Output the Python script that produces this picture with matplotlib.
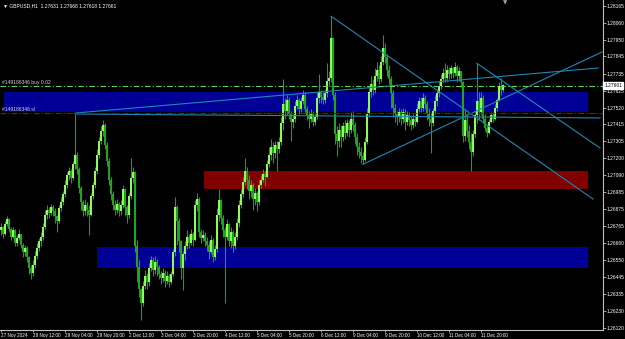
import numpy as np
import matplotlib.pyplot as plt
from matplotlib.patches import Rectangle

# GBPUSD H1 candles, values in 1e-4 above 1.2000 (bar 0 = 27 Nov 20:00)
base = 1.2
first_open_p = 674
close_p = [676, 672, 678, 681, 675, 670, 674, 666, 669, 672,
           665, 660, 663, 657, 650, 647, 652, 658, 663, 667,
           670, 676, 684, 687, 685, 689, 686, 683, 680, 688,
           692, 697, 703, 709, 712, 707, 716, 722, 713, 701,
           692, 686, 690, 687, 684, 696, 703, 712, 722, 731,
           737, 741, 728, 718, 706, 697, 690, 687, 691, 686,
           690, 700, 689, 684, 696, 707, 711, 664, 651, 637,
           628, 639, 645, 641, 650, 655, 649, 654, 651, 646,
           644, 647, 642, 645, 641, 646, 660, 689, 680, 667,
           650, 659, 664, 670, 666, 672, 668, 690, 694, 673,
           669, 671, 667, 665, 660, 668, 657, 662, 684, 693,
           682, 674, 670, 678, 667, 673, 664, 670, 679, 690,
           697, 705, 712, 706, 699, 703, 694, 698, 692, 703,
           706, 710, 708, 716, 722, 727, 723, 728, 726, 730,
           742, 754, 750, 757, 748, 743, 745, 753, 757, 751,
           756, 760, 751, 747, 745, 748, 743, 746, 758, 762,
           759, 757, 761, 769, 771, 796, 760, 735, 731, 738,
           733, 740, 736, 742, 738, 745, 741, 733, 727, 724,
           721, 719, 730, 748, 762, 767, 763, 772, 776, 770,
           781, 790, 784, 776, 770, 761, 752, 748, 746, 749,
           745, 749, 743, 747, 744, 741, 745, 743, 751, 756,
           752, 758, 754, 748, 745, 742, 750, 756, 761, 766,
           770, 774, 771, 776, 773, 777, 774, 778, 772, 775,
           768, 734, 744, 737, 730, 724, 735, 747, 756, 749,
           758, 745, 739, 736, 743, 747, 745, 752, 757, 766, 763.1, 766.1]
high_p = [679, 677, 680, 683, 682, 676, 676, 675, 671, 675,
          672, 666, 665, 664, 658, 652, 655, 661, 666, 669,
          673, 679, 687, 690, 689, 691, 690, 688, 684, 690,
          695, 699, 706, 711, 714, 713, 718, 748, 724, 714,
          702, 693, 694, 692, 690, 698, 705, 714, 726, 733,
          740, 744, 742, 730, 720, 708, 699, 693, 694, 692,
          693, 703, 701, 690, 698, 720, 714, 712, 668, 655,
          637, 642, 649, 647, 653, 658, 657, 658, 656, 652,
          648, 650, 649, 648, 646, 648, 662, 695, 690, 682,
          668, 661, 667, 674, 672, 675, 673, 693, 698, 695,
          675, 674, 673, 670, 667, 671, 669, 665, 688, 700,
          694, 684, 676, 681, 679, 676, 674, 673, 682, 693,
          700, 708, 720, 714, 709, 706, 704, 701, 699, 706,
          709, 713, 712, 719, 727, 732, 730, 731, 731, 733,
          746, 770, 758, 760, 759, 750, 748, 756, 760, 758,
          759, 763, 762, 753, 750, 751, 750, 748, 762, 773,
          763, 762, 764, 780, 775, 810, 797, 762, 740, 742,
          741, 743, 744, 745, 744, 749, 750, 743, 736, 730,
          727, 724, 733, 752, 766, 772, 770, 777, 781, 779,
          785, 798, 793, 786, 779, 772, 763, 754, 750, 752,
          751, 752, 751, 750, 749, 747, 748, 747, 755, 759,
          759, 761, 760, 756, 752, 749, 752, 760, 763, 769,
          773, 777, 780, 779, 778, 779, 778, 781, 779, 778,
          772, 769, 751, 748, 741, 736, 738, 750, 780, 762,
          762, 760, 748, 741, 745, 749, 749, 754, 758, 768, 771, 766.8]
low_p = [671, 669, 671, 677, 673, 668, 669, 664, 664, 668,
         663, 657, 658, 654, 646, 643, 645, 650, 656, 661,
         664, 668, 675, 681, 682, 684, 683, 679, 673, 679,
         686, 690, 695, 701, 706, 704, 706, 713, 710, 698,
         687, 683, 684, 683, 671, 683, 694, 701, 710, 720,
         729, 734, 726, 715, 703, 693, 687, 684, 685, 683,
         684, 688, 683, 679, 682, 694, 704, 660, 641, 632,
         617, 626, 637, 637, 639, 648, 645, 646, 645, 643,
         640, 641, 638, 640, 638, 640, 645, 658, 665, 660,
         643, 636, 655, 662, 663, 665, 664, 667, 686, 670,
         666, 667, 664, 661, 656, 659, 654, 655, 660, 680,
         678, 670, 628, 668, 664, 663, 660, 662, 668, 676,
         688, 695, 703, 700, 694, 695, 687, 690, 686, 690,
         701, 705, 702, 707, 714, 719, 717, 720, 712, 723,
         728, 738, 745, 747, 745, 731, 739, 743, 751, 748,
         749, 754, 749, 744, 739, 743, 740, 741, 745, 755,
         755, 754, 755, 759, 766, 768, 757, 729, 721, 727,
         727, 731, 732, 734, 733, 736, 737, 729, 722, 720,
         717, 716, 718, 729, 746, 759, 760, 761, 769, 767,
         768, 779, 780, 772, 767, 752, 746, 743, 741, 743,
         741, 742, 738, 741, 740, 738, 739, 740, 742, 749,
         749, 750, 751, 744, 740, 723, 740, 748, 753, 759,
         764, 768, 768, 769, 770, 771, 771, 772, 768, 769,
         765, 730, 731, 733, 726, 712, 721, 733, 742, 744,
         747, 742, 737, 733, 735, 742, 743, 744, 750, 756, 760, 761.8]

time_labels = ['27 Nov 2024', '28 Nov 12:00', '29 Nov 04:00', '29 Nov 20:00',
               '2 Dec 12:00', '3 Dec 04:00', '3 Dec 20:00', '4 Dec 12:00',
               '5 Dec 04:00', '5 Dec 20:00', '6 Dec 12:00', '9 Dec 04:00',
               '9 Dec 20:00', '10 Dec 12:00', '11 Dec 04:00', '11 Dec 20:00']
price_ticks = [1.28165, 1.28060, 1.27950, 1.27845, 1.27735, 1.27625, 1.27520,
               1.27415, 1.27305, 1.27200, 1.27090, 1.26985, 1.26875, 1.26765,
               1.26660, 1.26550, 1.26445, 1.26335, 1.26230, 1.26120]

# chart objects (bar index, price)
zones = [  # x0, x1, top, bottom, colour
    (1.5, 293.5, 1.27619, 1.27492, '#000096'),
    (101.5, 293.5, 1.27117, 1.27003, '#800000'),
    (48, 293.5, 1.26635, 1.26501, '#000096'),
]
trendlines = [  # x0, y0, x1, y1
    (37, 1.27485, 298.5, 1.27771),
    (37, 1.27479, 299.5, 1.27454),
    (165, 1.28100, 296, 1.26939),
    (238, 1.27800, 299.5, 1.27263),
    (181, 1.27160, 300.5, 1.27873),
]
buy_price = 1.27657
sl_price = 1.27485
last_price = 1.27661

close = base + np.array(close_p) / 1e4
high = base + np.array(high_p) / 1e4
low = base + np.array(low_p) / 1e4
open_ = np.concatenate([[base + first_open_p / 1e4], close[:-1]])
high = np.maximum(high, np.maximum(open_, close))
low = np.minimum(low, np.minimum(open_, close))
idx = np.arange(len(close))
up = close >= open_

fig = plt.figure(figsize=(6.25, 3.39), dpi=100, facecolor='black')
ax = fig.add_axes([0, 9 / 339, 603 / 625, 330 / 339])
ax.set_facecolor('black')
ax.set_xlim(-0.5, 301)
ax.set_ylim(1.261075, 1.28203)

for x0, x1, top, bot, col in zones:
    ax.add_patch(Rectangle((x0, bot), x1 - x0, top - bot, color=col, lw=0, zorder=1))

ax.vlines(idx, low, high, color='#00b400', lw=0.8, zorder=2)
ax.vlines(idx[up], open_[up], close[up], color='#94ff5c', lw=1.4, zorder=2)
ax.vlines(idx[~up], close[~up], open_[~up], color='#1fa81f', lw=1.4, zorder=2)

for x0, y0, x1, y1 in trendlines:
    ax.plot([x0, x1], [y0, y1], color='#1f86b4', lw=0.8, zorder=3)

ax.axhline(buy_price, color='#5fd35f', lw=0.8, ls=(0, (5, 2, 1, 2)), zorder=3)
ax.axhline(sl_price, color='#b40000', lw=0.8, ls=(0, (5, 2, 1, 2)), zorder=3)
ax.text(0.5, buy_price + 0.00008, '#149186346 buy 0.02', color='#d0d0d0',
        fontsize=3.6, va='bottom', ha='left', family='Liberation Sans', zorder=4)
ax.text(0.5, sl_price + 0.00008, '#149186346 sl', color='#d0d0d0',
        fontsize=3.6, va='bottom', ha='left', family='Liberation Sans', zorder=4)

for s in ['top', 'left']:
    ax.spines[s].set_visible(False)
for s in ['right', 'bottom']:
    ax.spines[s].set_color('#c0c0c0')
    ax.spines[s].set_linewidth(0.8)

ax.set_xticks(np.arange(len(time_labels)) * 16)
ax.set_xticklabels(time_labels, ha='left')
ax.yaxis.tick_right()
ax.set_yticks(price_ticks)
ax.set_yticklabels(['%.5f' % p for p in price_ticks])
ax.tick_params(axis='x', colors='#c0c0c0', labelcolor='white', labelsize=3.3,
               length=1.5, width=0.6, pad=0.4)
ax.tick_params(axis='y', colors='#c0c0c0', labelcolor='white', labelsize=3.5,
               length=2, width=0.6, pad=0.8)
for lab in ax.get_xticklabels() + ax.get_yticklabels():
    lab.set_family('Liberation Sans')

ax.text(1.002, last_price, '1.27661', transform=ax.get_yaxis_transform(),
        color='black', fontsize=3.5, va='center', ha='left', family='Liberation Sans',
        bbox=dict(boxstyle='square,pad=0.25', fc='white', ec='white'), clip_on=False, zorder=5)

fig.text(3 / 625, 1 - 6 / 339, '\u25bc GBPUSD,H1  1.27631 1.27668 1.27618 1.27661',
         color='white', fontsize=3.6, va='center', ha='left', family=['Liberation Sans', 'DejaVu Sans'])
fig.text(505 / 625, 1 - 3 / 339, '\u25bc', color='#a0a0a0', fontsize=4,
         va='center', ha='center', family='DejaVu Sans')

fig.savefig('out.png', dpi=100, facecolor='black')
